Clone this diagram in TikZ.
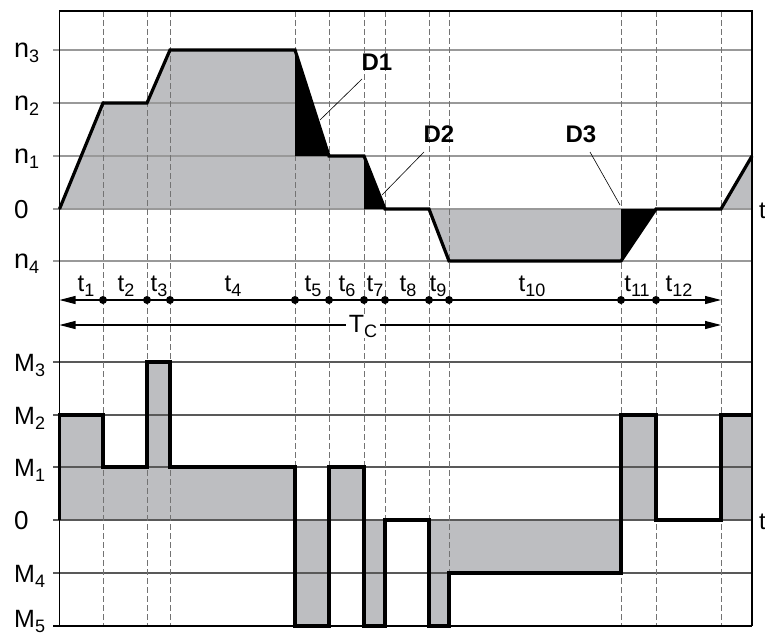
\documentclass[tikz,border=0pt]{standalone}
\usepackage{fontspec}
\setmainfont{Liberation Sans}
\usetikzlibrary{arrows.meta}
\definecolor{fillgray}{RGB}{189,190,193}
\newcommand\lbl[3]{{\fontsize{#3}{#3}\selectfont #1\raisebox{-5pt}{\fontsize{18}{18}\selectfont #2}}}
\begin{document}
\begin{tikzpicture}[x=1pt,y=-1pt,
  gridtop/.style={draw=black!40,line width=1.2pt},
  gridbot/.style={draw=black!65,line width=1.1pt},
  dashv/.style={draw=black!55,line width=0.9pt,dash pattern=on 6pt off 3pt},
  profile/.style={draw=black,line width=3.2pt,line join=miter},
  frameline/.style={draw=black,line width=1.3pt},
  axis/.style={draw=black,line width=1.1pt},
  leader/.style={draw=black,line width=0.6pt},
  ylab/.style={anchor=base west,inner sep=0pt},
  tlab/.style={anchor=base,inner sep=0pt},
  dlab/.style={font=\fontsize{24}{24}\selectfont\bfseries,inner sep=0pt},
  dot/.style={circle,fill=black,inner sep=0pt,minimum size=8pt}]
\useasboundingbox (0,0) rectangle (765,635);
% fills top
\fill[fillgray] (59.5,209) -- (103,103) -- (147,103) -- (170,50) -- (295,50) -- (329,156) -- (364,156) -- (385,209) -- cycle;
\fill[fillgray] (429,209) -- (449,261) -- (621,261) -- (621,209) -- cycle;
\fill[fillgray] (721,209) -- (752,156) -- (752,209) -- cycle;
% fills bottom
\fill[fillgray] (59.5,520) -- (59.5,415) -- (103,415) -- (103,467) -- (147,467) -- (147,362) -- (170,362) -- (170,467) -- (295,467) -- (295,520) -- cycle;
\fill[fillgray] (295,520) rectangle (329,626);
\fill[fillgray] (329,520) rectangle (364,467);
\fill[fillgray] (364,520) rectangle (385,626);
\fill[fillgray] (429,520) -- (429,626) -- (449,626) -- (449,573) -- (621,573) -- (621,520) -- cycle;
\fill[fillgray] (621,520) rectangle (656,415);
\fill[fillgray] (721,520) rectangle (752,415);
% grid lines
\foreach \yy in {50,103,156,209,261} \draw[gridtop] (53,\yy) -- (752,\yy);
\foreach \yy in {362,415,467,520,573} \draw[gridbot] (53,\yy) -- (752,\yy);
% dashed verticals
\foreach \xx in {103,147,170,295,329,364,385,429,449,621,656,721} \draw[dashv] (\xx,11) -- (\xx,626);
% black regions D1..D3
\fill[black] (295,50) -- (329,156) -- (295,156) -- cycle;
\fill[black] (364,156) -- (385,209) -- (364,209) -- cycle;
\fill[black] (621,209) -- (656,209) -- (621,261) -- cycle;
% frame
\draw[frameline] (59.5,626) -- (59.5,11) -- (752,11) -- (752,626);
\draw[frameline] (53,626) -- (752,626);
% profiles
\draw[profile] (59.5,209) -- (103,103) -- (147,103) -- (170,50) -- (295,50) -- (329,156) -- (364,156) -- (385,209) -- (429,209) -- (449,261) -- (621,261) -- (656,209) -- (721,209) -- (752,156);
\draw[profile] (59.5,520) -- (59.5,415) -- (103,415) -- (103,467) -- (147,467) -- (147,362) -- (170,362) -- (170,467) -- (295,467) -- (295,626) -- (329,626) -- (329,467) -- (364,467) -- (364,626) -- (385,626) -- (385,520) -- (429,520) -- (429,626) -- (449,626) -- (449,573) -- (621,573) -- (621,415) -- (656,415) -- (656,520) -- (721,520) -- (721,415) -- (752,415);
% y labels
\node[ylab] (ln3) at (14,57) {\lbl{n}{3}{27}};
\node[ylab] (ln2) at (14,110) {\lbl{n}{2}{27}};
\node[ylab] (ln1) at (14,163) {\lbl{n}{1}{27}};
\node[ylab] (lz1) at (14,218) {\fontsize{26}{26}\selectfont 0};
\node[ylab] (ln4) at (14,268) {\lbl{n}{4}{27}};
\node[ylab] (lM3) at (14,371) {\lbl{M}{3}{25}};
\node[ylab] (lM2) at (14,424) {\lbl{M}{2}{25}};
\node[ylab] (lM1) at (14,476) {\lbl{M}{1}{25}};
\node[ylab] (lz2) at (14,529) {\fontsize{26}{26}\selectfont 0};
\node[ylab] (lM4) at (14,582) {\lbl{M}{4}{25}};
\node[ylab] (lM5) at (14,627) {\lbl{M}{5}{25}};
\node[ylab] (tt1) at (759,218) {\fontsize{24}{24}\selectfont t};
\node[ylab] (tt2) at (759,529) {\fontsize{24}{24}\selectfont t};
% time axis
\coordinate (ta0) at (59.5,300);
\coordinate (ta1) at (721,300);
\draw[axis,{Triangle[length=16pt,width=8pt]}-{Triangle[length=16pt,width=8pt]}] (ta0) -- (ta1);
\foreach \xx in {103,147,170,295,329,364,385,429,449,621,656} \node[dot] at (\xx,300) {};
\node[tlab] (t1) at (86,291) {\lbl{t}{1}{24}};
\node[tlab] (t2) at (126,291) {\lbl{t}{2}{24}};
\node[tlab] (t3) at (159,291) {\lbl{t}{3}{24}};
\node[tlab] (t4) at (233,291) {\lbl{t}{4}{24}};
\node[tlab] (t5) at (313,291) {\lbl{t}{5}{24}};
\node[tlab] (t6) at (347,291) {\lbl{t}{6}{24}};
\node[tlab] (t7) at (375,291) {\lbl{t}{7}{24}};
\node[tlab] (t8) at (408,291) {\lbl{t}{8}{24}};
\node[tlab] (t9) at (438,291) {\lbl{t}{9}{24}};
\node[tlab] (t10) at (532,291) {\lbl{t}{10}{24}};
\node[tlab] (t11) at (637,291) {\lbl{t}{11}{24}};
\node[tlab] (t12) at (679,291) {\lbl{t}{12}{24}};
% Tc arrow
\coordinate (tc0) at (59.5,325);
\coordinate (tc1) at (721,325);
\draw[axis,{Triangle[length=16pt,width=8pt]}-{Triangle[length=16pt,width=8pt]}] (tc0) -- (tc1);
\node[tlab,fill=white,inner xsep=3pt,inner ysep=1pt] (tc) at (363,332) {\lbl{T}{C}{25}};
% D labels
\node[dlab] (D1) at (377,62) {D1};
\node[dlab] (D2) at (439,134) {D2};
\node[dlab] (D3) at (581,134) {D3};
\coordinate (d1e) at (320,120);
\coordinate (d2e) at (382,195);
\coordinate (d3e) at (620,205);
\draw[leader] (362,79) -- (d1e);
\draw[leader] (424,152) -- (d2e);
\draw[leader] (590,152) -- (d3e);
\end{tikzpicture}
\end{document}
